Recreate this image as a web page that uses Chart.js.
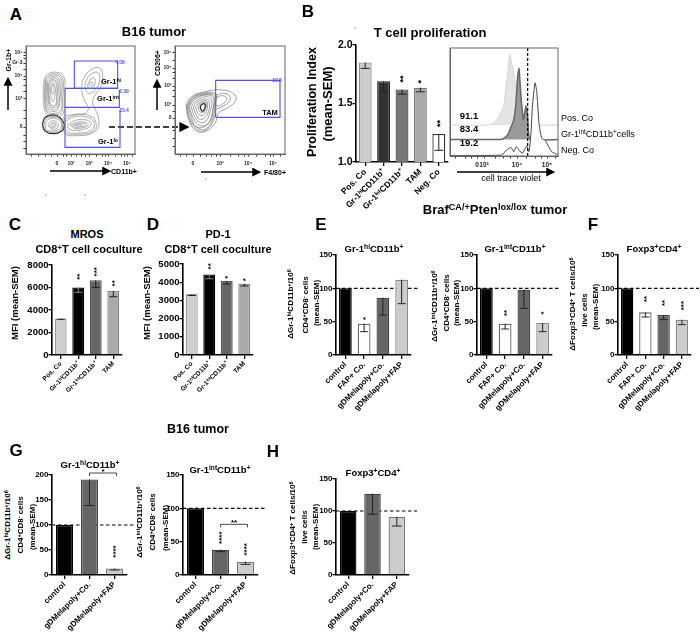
<!DOCTYPE html>
<html>
<head>
<meta charset="utf-8">
<title>Figure</title>
<script src="https://cdn.jsdelivr.net/npm/chart.js@4"></script>
<style>
  html, body { margin: 0; padding: 0; background: #fff; }
  #page { position: relative; width: 700px; height: 638px; overflow: hidden; font-family: "Liberation Sans", Arial, sans-serif; filter: blur(0.3px); background: #fff; }
  #page canvas { position: absolute; }
  #page svg { position: absolute; left: 0; top: 0; }
  .txt { position: absolute; white-space: nowrap; font-weight: bold; color: #000; line-height: 1; }
  .txt sup { font-size: 70%; line-height: 0; vertical-align: baseline; position: relative; top: -0.4em; }
</style>
</head>
<body>
<div id="page">
  <svg width="700" height="638">
    <defs>
      <marker id="head" markerWidth="6" markerHeight="6" refX="4.5" refY="3" orient="auto"><path d="M0,0 L6,3 L0,6 Z" fill="#000"/></marker>
    </defs>
    <g stroke="#000" stroke-width="1.5" fill="none">
      <line x1="8" y1="110" x2="8" y2="79" marker-end="url(#head)"/>
      <line x1="50" y1="171" x2="109" y2="171" marker-end="url(#head)"/>
      <line x1="157" y1="110" x2="157" y2="81" marker-end="url(#head)"/>
      <line x1="201" y1="172" x2="259" y2="172" marker-end="url(#head)"/>
      <line x1="109" y1="127" x2="187" y2="127" stroke-width="1.7" stroke-dasharray="6 3" marker-end="url(#head)"/>
      <line x1="457" y1="172" x2="553" y2="172" marker-end="url(#head)"/>
    </g>
    <g fill="#777">
      <circle cx="46" cy="195" r="0.7"/><circle cx="85" cy="195" r="0.7"/><circle cx="206" cy="179" r="0.7"/><circle cx="355" cy="28" r="0.7"/>
    </g>
  </svg>
</div>
<script>
// panel B
const bCategories = ["Pos. Co", "Gr-1ʰⁱCD11b⁺", "Gr-1ⁱⁿᵗCD11b⁺", "TAM", "Neg. Co"];
const bValues = [1.85, 1.69, 1.62, 1.635, 1.24];
const bErrors = [0.05, 0.09, 0.04, 0.035, 0.14];
const bStars = ["", "", "**", "*", "**"];
const bStarAt = [0, 0, 1.71, 1.685, 1.33];
const bTicks = [1.0, 1.5, 2.0];

// panels C, D
const cdCategories = ["Pos. Co", "Gr-1ʰⁱCD11b⁺", "Gr-1ⁱⁿᵗCD11b⁺", "TAM"];
const cValues = [3250, 6000, 6650, 5680];
const cErrors = [80, 430, 650, 500];
const cStars = ["", "**", "***", "**"];
const cStarAt = [0, 6960, 7400, 6370];
const cTicks = [0, 2000, 4000, 6000, 8000];
const dValues = [3350, 4420, 4070, 3920];
const dErrors = [80, 230, 160, 130];
const dStars = ["", "**", "*", "*"];
const dStarAt = [0, 4870, 4280, 4135];
const dTicks = [0, 1000, 2000, 3000, 4000, 5000];

// panels E, F
const efCategories = ["control", "FAP+ Co.", "gDMelapoly+Co.", "gDMelapoly+FAP"];
const e1Values = [100, 47, 86, 113];
const e1Errors = [0, 12, 26, 36];
const e1Stars = ["", "*", "", ""];
const e1StarAt = [0, 55, 0, 0];
const e2Values = [100, 47, 98, 48];
const e2Errors = [0, 8, 28, 13];
const e2Stars = ["", "**", "", "*"];
const e2StarAt = [0, 63, 0, 63];
const fValues = [100, 64, 60, 53];
const fErrors = [0, 7, 7, 7.5];
const fStars = ["", "**", "**", "***"];
const fStarAt = [0, 84, 78, 74];
const pctTicks = [0, 50, 100, 150];

// panels G, H
const ghCategories = ["control", "gDMelapoly+Co.", "gDMelapoly+FAP"];
const g1Values = [100, 191, 13];
const g1Errors = [0, 52, 3];
const g1Stars = ["", "", "****"];
const g1StarAt = [0, 0, 47];
const g1Ticks = [0, 50, 100, 150, 200];
const g2Values = [100, 38, 20];
const g2Errors = [0, 3, 4];
const g2Stars = ["", "****", "****"];
const g2StarAt = [0, 56, 38.5];
const hValues = [100, 127, 91];
const hErrors = [0, 32, 14.5];

// colours
const greyBars = [["#cccccc", "#8c8c8c"], ["#333333", "#222222"], ["#777777", "#555555"], ["#aaaaaa", "#777777"], ["#ffffff", "#333333"]];
const cdBars = [["#cfcfcf", "#999999"], ["#000000", "#000000"], ["#666666", "#555555"], ["#aaaaaa", "#888888"]];
const efBars = [["#000000", "#000000"], ["#ffffff", "#666666"], ["#666666", "#444444"], ["#cccccc", "#888888"]];
const ghBars = [["#000000", "#000000"], ["#666666", "#444444"], ["#cccccc", "#777777"]];

// flow plot 1: contour outlines, in display channels
const leftColumn = [
  [[58,245],[72,260],[95,263],[115,253],[120,220],[118,185],[115,140],[95,130],[70,133],[58,155],[55,205]],
  [[60,242],[75,256],[97,258],[112,247],[115,215],[113,180],[111,145],[92,135],[70,139],[60,165]],
  [[62,240],[78,253],[98,253],[110,240],[110,195],[108,150],[90,140],[70,145],[62,175]],
  [[65,237],[80,249],[98,247],[106,228],[105,185],[100,155],[87,145],[71,153],[65,185]],
  [[68,233],[82,245],[98,240],[102,210],[100,165],[85,150],[72,165],[68,200]],
  [[70,229],[82,241],[96,233],[98,205],[96,170],[84,157],[73,172]],
  [[72,225],[83,237],[94,227],[95,195],[92,167],[82,163],[74,180]],
  [[76,220],[83,230],[90,220],[90,195],[84,175],[78,190]],
  [[80,220],[84,227],[87,215],[85,197],[80,205]]
];
const lowerLeft = [
  [[56,105],[64,123],[86,130],[105,122],[114,104],[104,88],[80,83],[62,90]],
  [[60,105],[68,120],[88,125],[105,117],[110,103],[98,90],[78,87],[64,93]],
  [[68,105],[76,115],[90,117],[100,107],[95,95],[80,93]],
  [[74,105],[84,112],[94,105],[86,97],[76,99]],
  [[80,105],[86,109],[90,104],[84,100]]
];
const lowerLeftDark = [[52,105],[60,127],[85,135],[105,127],[118,105],[110,87],[85,79],[60,87]];
const upperRight = [
  [[172,235],[190,265],[222,277],[233,255],[228,220],[210,195],[203,170],[218,135],[220,100],[200,80],[160,73],[120,80],[115,125],[150,137],[180,140],[190,155],[178,180],[170,210]],
  [[180,230],[195,255],[218,263],[224,245],[215,215],[195,200],[182,210]],
  [[188,227],[198,243],[208,245],[210,230],[198,215],[190,217]],
  [[192,227],[198,235],[203,230],[197,222]]
];
const lowerRight = [
  [[118,122],[150,135],[195,132],[213,112],[206,87],[160,77],[122,83]],
  [[120,115],[150,130],[190,127],[208,110],[200,90],[160,81],[125,87]],
  [[128,107],[155,120],[188,119],[198,105],[180,93],[150,89],[130,95]],
  [[135,105],[155,113],[180,113],[190,105],[175,97],[150,95]],
  [[142,104],[158,109],[178,109],[182,104],[165,99],[148,99]],
  [[150,104],[160,106],[170,105],[165,102],[155,102]]
];
const gateHi = [[148,215],[148,297],[278,297],[278,215],[148,215]];
const gateInt = [[120,158],[120,215],[278,215]];
const gateIntRight = [[283,210],[283,160]];
const gateMid = [[120,158],[285,158]];
const gateLo = [[120,158],[120,38],[285,38],[285,150]];
const flow1XTicks = [96, 138, 192, 249, 306];
const flow1XLabels = ["0", "10²", "10³", "10⁴", "10⁵"];
const flow1XMinor = [20, 40, 60, 78, 115, 125, 155, 170, 180, 215, 232, 242, 270, 288, 298, 322];
const flow1YTicks = [99, 183, 252, 291, 321];
const flow1YLabels = ["0", "10³", "10⁴", "Gr-3", "10⁵"];
const flow1YMinor = [35, 55, 75, 125, 150, 205, 225, 240, 272, 305, 312];

// flow plot 2
const tamContours = [
  [[48,165],[65,190],[105,205],[160,210],[195,195],[195,175],[170,155],[145,140],[135,110],[105,85],[75,90],[55,125]],
  [[50,162],[68,188],[106,202],[137,198],[137,170],[132,125],[108,90],[80,92],[58,122]],
  [[52,160],[70,187],[108,199],[135,195],[135,170],[130,130],[110,95],[85,95],[62,120]],
  [[55,160],[72,184],[109,197],[132,190],[131,160],[122,120],[100,99],[78,100],[66,122]],
  [[58,160],[75,182],[110,195],[130,185],[128,150],[115,110],[90,103],[70,125]],
  [[64,160],[78,177],[110,190],[125,177],[120,145],[108,117],[90,113],[74,130]],
  [[70,160],[82,173],[110,183],[118,170],[115,145],[102,125],[88,123],[78,137]],
  [[76,160],[88,170],[108,178],[113,165],[108,145],[96,133],[84,140]],
  [[84,160],[94,170],[108,173],[108,157],[98,142],[88,147]]
];
const tamDark = [[90,160],[98,168],[105,167],[104,153],[96,147]];
const tamLobe = [
  [[138,195],[165,200],[180,190],[178,175],[155,160],[138,155]],
  [[138,187],[158,193],[170,185],[165,173],[140,163]]
];
const gateTam = [[137,128],[137,239],[330,239],[330,128],[137,128]];
const flow2XTicks = [69, 150, 234, 309];
const flow2XLabels = ["0", "10³", "10⁴", "10⁵"];
const flow2XMinor = [30, 50, 90, 110, 125, 140, 180, 205, 222, 260, 285, 300, 330];
const flow2YTicks = [126, 165, 222, 276, 322];
const flow2YLabels = ["0", "10²", "10³", "10⁴", "10⁵"];
const flow2YMinor = [40, 65, 90, 145, 190, 208, 245, 262, 300];

// histogram
const histPos = [[15,93],[130,93],[145,98],[158,113],[175,143],[182,198],[188,248],[195,306],[200,278],[208,238],[215,198],[222,158],[228,123],[240,98],[250,93],[339,93]];
const histInt = [[15,50],[170,50],[188,63],[198,88],[205,103],[212,148],[218,240],[222,263],[228,178],[235,110],[243,150],[248,118],[255,50],[339,50]];
const histNeg = [[15,1],[170,3],[185,18],[198,26],[206,13],[214,28],[222,18],[232,8],[245,30],[252,13],[258,68],[262,148],[270,220],[275,198],[282,98],[290,53],[300,48],[320,13],[339,3]];
const histGate = [[248,325],[248,0]];
const histXTicks = [96, 117, 216, 306];
const histXLabels = ["0", "10³", "10⁴", "10⁵"];
const histXMinor = [30, 60, 80, 150, 175, 195, 245, 270, 290, 330];

const page = document.getElementById("page");

function addCanvas(area, m) {
  const c = document.createElement("canvas");
  c.width = area.right - area.left + m.left + m.right;
  c.height = area.bottom - area.top + m.top + m.bottom;
  c.style.left = area.left - m.left + "px";
  c.style.top = area.top - m.top + "px";
  page.appendChild(c);
  return c.getContext("2d");
}

// star marks, dashed line, error bars and brackets, all placed through the chart's scales
function barExtras(o) {
  return {
    id: "barExtras",
    beforeDatasetsDraw: function (chart) {
      if (!o.refLine) return;
      const ctx = chart.ctx;
      const py = chart.scales.y.getPixelForValue(o.refLine);
      ctx.save();
      ctx.strokeStyle = "#000";
      ctx.lineWidth = 1.2;
      ctx.setLineDash([3.5, 2.5]);
      ctx.beginPath();
      ctx.moveTo(chart.chartArea.left, py);
      ctx.lineTo(chart.chartArea.right + (o.refExtra || 8), py);
      ctx.stroke();
      ctx.restore();
    },
    afterDatasetsDraw: function (chart) {
      const ctx = chart.ctx;
      const x = chart.scales.x;
      const y = chart.scales.y;
      ctx.save();
      o.values.forEach(function (v, i) {
        const px = x.getPixelForTick(i);
        const err = o.errors[i];
        if (err) {
          const cap = o.capWidth || 4;
          ctx.strokeStyle = o.colors[i][0] === "#000000" ? "#8a8a8a" : "#222";
          ctx.lineWidth = 1;
          ctx.beginPath();
          ctx.moveTo(px, y.getPixelForValue(v));
          ctx.lineTo(px, y.getPixelForValue(v - err));
          ctx.moveTo(px - cap, y.getPixelForValue(v - err));
          ctx.lineTo(px + cap, y.getPixelForValue(v - err));
          ctx.stroke();
        }
        if (o.stars && o.stars[i]) {
          ctx.save();
          ctx.translate(px + 1.5, y.getPixelForValue(o.starAt[i]));
          ctx.rotate(-Math.PI / 2);
          ctx.fillStyle = "#000";
          ctx.font = "bold " + (o.starSize || 8) + "px 'Liberation Sans'";
          ctx.textAlign = "center";
          ctx.textBaseline = "middle";
          ctx.fillText(o.stars[i], 0, 0);
          ctx.restore();
        }
      });
      if (o.bracket) {
        const b = o.bracket;
        const x1 = x.getPixelForTick(b.from);
        const x2 = x.getPixelForTick(b.to) + 2;
        const by = y.getPixelForValue(b.value);
        ctx.strokeStyle = "#333";
        ctx.lineWidth = 0.9;
        ctx.beginPath();
        ctx.moveTo(x1, by + 3);
        ctx.lineTo(x1, by);
        ctx.lineTo(x2, by);
        ctx.lineTo(x2, by + 3);
        ctx.stroke();
        ctx.fillStyle = "#000";
        ctx.font = "bold 8px 'Liberation Sans'";
        ctx.textAlign = "center";
        ctx.fillText(b.text, (x1 + x2) / 2, by + 1);
      }
      ctx.restore();
    }
  };
}

function barPanel(area, o) {
  const m = { left: 40, right: 20, top: 16, bottom: 80 };
  new Chart(addCanvas(area, m), {
    type: "bar",
    data: {
      labels: o.categories,
      datasets: [{
        data: o.values,
        backgroundColor: o.colors.map(function (c) { return c[0]; }),
        borderColor: o.colors.map(function (c) { return c[1]; }),
        borderWidth: 1.3,
        barPercentage: o.barWidth || 0.68,
        categoryPercentage: 1
      }]
    },
    options: {
      responsive: false,
      animation: false,
      layout: { autoPadding: false, padding: { top: m.top, right: m.right } },
      plugins: { legend: { display: false }, tooltip: { enabled: false } },
      scales: {
        x: {
          grid: { drawOnChartArea: false, offset: false, color: "#000", lineWidth: 1.3, tickLength: 4 },
          border: { color: "#000", width: 1.6 },
          ticks: {
            autoSkip: false, minRotation: 45, maxRotation: 45, padding: 1, color: "#000",
            font: { family: "Liberation Sans", weight: "bold", size: o.xSize || 8 }
          },
          afterFit: function (s) { s.height = m.bottom; }
        },
        y: {
          min: o.ticks[0],
          max: o.ticks[o.ticks.length - 1],
          afterBuildTicks: function (s) { s.ticks = o.ticks.map(function (v) { return { value: v }; }); },
          grid: { drawOnChartArea: false, color: "#000", lineWidth: 1.3, tickLength: 3.5 },
          border: { color: "#000", width: 1.6 },
          ticks: {
            padding: 0, color: "#000",
            font: { family: "Liberation Sans", weight: "bold", size: o.ySize || 8 },
            callback: function (v) { return o.yFixed ? v.toFixed(o.yFixed) : v; }
          },
          afterFit: function (s) { s.width = m.left; }
        }
      }
    },
    plugins: [barExtras(o)]
  });
}

function line(points, color, width, tension, extra) {
  return Object.assign({
    data: points.map(function (p) { return { x: p[0], y: p[1] }; }),
    showLine: true,
    pointRadius: 0,
    borderColor: color,
    borderWidth: width,
    tension: tension,
    fill: false
  }, extra || {});
}

function loop(points, color, width) {
  return line(points.concat([points[0]]), color, width, 0.45);
}

const frame = {
  id: "frame",
  afterDraw: function (chart) {
    const a = chart.chartArea;
    chart.ctx.save();
    chart.ctx.strokeStyle = "#666";
    chart.ctx.lineWidth = 1;
    chart.ctx.strokeRect(a.left, a.top, a.right - a.left, a.bottom - a.top);
    chart.ctx.restore();
  }
};

function flowPanel(area, o) {
  const m = { left: 24, right: 8, top: 8, bottom: 20 };
  function tickList(values, minor) {
    return function (s) { s.ticks = values.concat(minor || []).map(function (v) { return { value: v }; }); };
  }
  function labelFor(values, labels) {
    return function (v) { const i = values.indexOf(v); return i < 0 ? "" : labels[i]; };
  }
  const tickFont = { family: "Liberation Sans", size: o.tickSize || 5, weight: "bold" };
  const scales = {
    x: {
      type: "linear", min: o.x[0], max: o.x[1],
      afterBuildTicks: tickList(o.xTicks, o.xMinor),
      grid: { drawOnChartArea: false, color: "#333", tickLength: 2.5 },
      border: { color: "#666" },
      ticks: { autoSkip: false, maxRotation: 0, padding: o.xPad || 2, color: "#222", font: tickFont, callback: labelFor(o.xTicks, o.xLabels) },
      afterFit: function (s) { s.height = m.bottom; }
    },
    y: {
      type: "linear", min: o.y[0], max: o.y[1],
      afterBuildTicks: tickList(o.yTicks || [], o.yMinor),
      grid: { drawOnChartArea: false, color: "#333", tickLength: 2.5 },
      border: { color: "#666" },
      ticks: { autoSkip: false, padding: 1, color: "#222", font: tickFont, display: !!o.yTicks, callback: o.yTicks ? labelFor(o.yTicks, o.yLabels) : undefined },
      afterFit: function (s) { s.width = m.left; }
    }
  };
  new Chart(addCanvas(area, m), {
    type: "scatter",
    data: { datasets: o.sets },
    options: {
      responsive: false,
      animation: false,
      layout: { autoPadding: false, padding: { top: m.top, right: m.right } },
      plugins: { legend: { display: false }, tooltip: { enabled: false } },
      scales: scales
    },
    plugins: [frame]
  });
}

function addText(t) {
  const d = document.createElement("div");
  d.className = "txt";
  d.innerHTML = t.html;
  d.style.left = t.x + "px";
  d.style.top = t.y + "px";
  d.style.fontSize = t.size + "px";
  if (t.normal) d.style.fontWeight = "normal";
  if (t.color) d.style.color = t.color;
  const ax = t.left ? "0" : "-50%";
  d.style.transform = "translate(" + ax + ",-50%)" + (t.rot ? " rotate(-90deg)" : "");
  page.appendChild(d);
}

// flow plots
const BLUE = "#4f4ff0";
const GREY = "#8a8a8a";
flowPanel({ left: 26, right: 135, top: 46, bottom: 154 }, {
  x: [3, 330], y: [18, 342],
  xTicks: flow1XTicks, xLabels: flow1XLabels, xMinor: flow1XMinor,
  yTicks: flow1YTicks, yLabels: flow1YLabels, yMinor: flow1YMinor, xPad: 4,
  sets: leftColumn.concat(upperRight, lowerRight, lowerLeft).map(function (p) { return loop(p, GREY, 0.7); })
    .concat([loop(lowerLeftDark, "#333", 1.3)])
    .concat([gateHi, gateInt, gateIntRight, gateMid, gateLo].map(function (p) { return line(p, BLUE, 1.1, 0); }))
});
flowPanel({ left: 175, right: 285, top: 46, bottom: 154 }, {
  x: [15, 345], y: [18, 342],
  xTicks: flow2XTicks, xLabels: flow2XLabels, xMinor: flow2XMinor,
  yTicks: flow2YTicks, yLabels: flow2YLabels, yMinor: flow2YMinor, xPad: 4,
  sets: tamContours.concat(tamLobe).map(function (p) { return loop(p, "#777", 0.7); })
    .concat([loop(tamDark, "#222", 1.3), line(gateTam, BLUE, 1.1, 0)])
});
flowPanel({ left: 450, right: 558, top: 48, bottom: 156 }, {
  x: [15, 339], y: [0, 325],
  xTicks: histXTicks, xLabels: histXLabels, xMinor: histXMinor, tickSize: 6.5, xPad: 3,
  sets: [
    line(histNeg, "#444", 1, 0.15, { fill: { value: 0 }, backgroundColor: "#ffffff", order: 1 }),
    line(histInt, "#666", 1.5, 0.15, { fill: { value: 50 }, backgroundColor: "#9a9a9a", order: 2 }),
    line(histPos, "#d2d2d2", 1, 0.15, { fill: { value: 93 }, backgroundColor: "#e4e4e4", order: 3 }),
    line(histGate, "#000", 1.2, 0, { borderDash: [3, 2], order: 0 })
  ]
});

// bar panels
barPanel({ left: 356, right: 448, top: 45, bottom: 162 }, {
  categories: bCategories, values: bValues, errors: bErrors, colors: greyBars, ticks: bTicks, yFixed: 1,
  stars: bStars, starAt: bStarAt, starSize: 9, ySize: 10.5, xSize: 8.5, barWidth: 0.7, capWidth: 4.5
});
barPanel({ left: 52, right: 122, top: 265, bottom: 355 }, {
  categories: cdCategories, values: cValues, errors: cErrors, colors: cdBars, ticks: cTicks,
  stars: cStars, starAt: cStarAt, ySize: 9.5, xSize: 6.5
});
barPanel({ left: 183, right: 253, top: 264, bottom: 355 }, {
  categories: cdCategories, values: dValues, errors: dErrors, colors: cdBars, ticks: dTicks,
  stars: dStars, starAt: dStarAt, ySize: 9.5, xSize: 6.5
});
barPanel({ left: 336, right: 411, top: 255, bottom: 355 }, {
  categories: efCategories, values: e1Values, errors: e1Errors, colors: efBars, ticks: pctTicks,
  stars: e1Stars, starAt: e1StarAt, refLine: 100
});
barPanel({ left: 477, right: 552, top: 255, bottom: 355 }, {
  categories: efCategories, values: e2Values, errors: e2Errors, colors: efBars, ticks: pctTicks,
  stars: e2Stars, starAt: e2StarAt, refLine: 100
});
barPanel({ left: 618, right: 691, top: 255, bottom: 355 }, {
  categories: efCategories, values: fValues, errors: fErrors, colors: efBars, ticks: pctTicks,
  stars: fStars, starAt: fStarAt, refLine: 100, refExtra: 0
});
barPanel({ left: 52, right: 127, top: 475, bottom: 575 }, {
  categories: ghCategories, values: g1Values, errors: g1Errors, colors: ghBars, ticks: g1Ticks,
  stars: g1Stars, starAt: g1StarAt, refLine: 100, refExtra: 0, capWidth: 5,
  bracket: { from: 1, to: 2, value: 204, text: "*" }
});
barPanel({ left: 183, right: 258, top: 475, bottom: 575 }, {
  categories: ghCategories, values: g2Values, errors: g2Errors, colors: ghBars, ticks: pctTicks,
  stars: g2Stars, starAt: g2StarAt, refLine: 100, refExtra: 0, capWidth: 5,
  bracket: { from: 1, to: 2, value: 76, text: "**" }
});
barPanel({ left: 336, right: 409, top: 479, bottom: 575 }, {
  categories: ghCategories, values: hValues, errors: hErrors, colors: ghBars, ticks: pctTicks,
  refLine: 100, refExtra: 0, capWidth: 5
});

// text
const hiB = "Gr-1<sup>hi</sup>CD11b<sup>+</sup>";
const intB = "Gr-1<sup>int</sup>CD11b<sup>+</sup>";
const foxp = "Foxp3<sup>+</sup>CD4<sup>+</sup>";
const cd4cd8 = "CD4<sup>+</sup>CD8<sup>-</sup> cells";
[
  { html: "A", x: 16, y: 14, size: 17 }, { html: "B", x: 308, y: 11, size: 17 },
  { html: "C", x: 15, y: 224, size: 17 }, { html: "D", x: 153, y: 224, size: 17 },
  { html: "E", x: 321, y: 224, size: 17 }, { html: "F", x: 593, y: 224, size: 17 },
  { html: "G", x: 16, y: 450, size: 17 }, { html: "H", x: 273, y: 451, size: 17 },
  { html: "B16 tumor", x: 154, y: 31, size: 13 },
  { html: "T cell proliferation", x: 430, y: 32, size: 13 },
  { html: "Braf<sup>CA/+</sup>Pten<sup>lox/lox</sup> tumor", x: 495, y: 209, size: 13 },
  { html: "B16 tumor", x: 198, y: 429, size: 12.5 },
  { html: "MROS", x: 87, y: 234, size: 11 },
  { html: "CD8<sup>+</sup>T cell coculture", x: 89, y: 249, size: 11 },
  { html: "PD-1", x: 218, y: 234, size: 11 },
  { html: "CD8<sup>+</sup>T cell coculture", x: 218, y: 249, size: 11 },
  { html: hiB, x: 374, y: 249, size: 9.5 }, { html: intB, x: 515, y: 249, size: 9.5 },
  { html: foxp, x: 654, y: 249, size: 9.5 }, { html: hiB, x: 90, y: 465, size: 9.5 },
  { html: intB, x: 220, y: 470, size: 9.5 }, { html: foxp, x: 373, y: 473, size: 9.5 },

  { html: "Proliferation Index", x: 312, y: 102, size: 12.5, rot: 1 },
  { html: "(mean-SEM)", x: 327, y: 104, size: 13, rot: 1 },
  { html: "MFI (mean-SEM)", x: 15, y: 303, size: 9.5, rot: 1 },
  { html: "MFI (mean-SEM)", x: 147, y: 303, size: 9.5, rot: 1 },

  { html: "ΔGr-1<sup>hi</sup>CD11b<sup>+</sup>/10<sup>6</sup>", x: 291, y: 304, size: 8, rot: 1 },
  { html: cd4cd8, x: 306, y: 305, size: 8, rot: 1 },
  { html: "(mean-SEM)", x: 317, y: 303, size: 8, rot: 1 },
  { html: "ΔGr-1<sup>int</sup>CD11b<sup>+</sup>/10<sup>6</sup>", x: 435, y: 306, size: 8, rot: 1 },
  { html: cd4cd8, x: 447, y: 303, size: 8, rot: 1 },
  { html: "(mean-SEM)", x: 457, y: 303, size: 8, rot: 1 },
  { html: "ΔFoxp3<sup>+</sup>CD4<sup>+</sup> T cells/10<sup>6</sup>", x: 573, y: 304, size: 8, rot: 1 },
  { html: "live cells", x: 585, y: 310, size: 8, rot: 1 },
  { html: "(mean-SEM)", x: 596, y: 307, size: 8, rot: 1 },
  { html: "ΔGr-1<sup>hi</sup>CD11b<sup>+</sup>/10<sup>6</sup>", x: 8, y: 525, size: 8, rot: 1 },
  { html: cd4cd8, x: 21, y: 525, size: 8, rot: 1 },
  { html: "(mean-SEM)", x: 33, y: 527, size: 8, rot: 1 },
  { html: "ΔGr-1<sup>int</sup>CD11b<sup>+</sup>/10<sup>6</sup>", x: 140, y: 522, size: 8, rot: 1 },
  { html: cd4cd8, x: 153, y: 522, size: 8, rot: 1 },
  { html: "(mean-SEM)", x: 166, y: 528, size: 8, rot: 1 },
  { html: "ΔFoxp3<sup>+</sup>CD4<sup>+</sup> T cells/10<sup>6</sup>", x: 293, y: 528, size: 8, rot: 1 },
  { html: "live cells", x: 305, y: 527, size: 8, rot: 1 },
  { html: "(mean-SEM)", x: 316, y: 527, size: 8, rot: 1 },

  { html: "Gr-1b+", x: 8, y: 60, size: 7, rot: 1 }, { html: "CD11b+", x: 124, y: 171, size: 7 },
  { html: "CD206+", x: 157, y: 63, size: 7, rot: 1 }, { html: "F4/80+", x: 275, y: 172, size: 7 },
  { html: "Gr-1<sup>hi</sup>", x: 111, y: 82, size: 7.5 },
  { html: "Gr-1<sup>int</sup>", x: 108, y: 99, size: 7.5 },
  { html: "Gr-1<sup>lo</sup>", x: 108, y: 142, size: 7.5 },
  { html: "TAM", x: 270, y: 113, size: 7.5 },
  { html: "4.09", x: 120, y: 62, size: 5, color: BLUE },
  { html: "2.39", x: 124, y: 91, size: 5, color: BLUE },
  { html: "15.4", x: 124, y: 110, size: 5, color: BLUE },
  { html: "10.8", x: 277, y: 80, size: 5, color: BLUE },

  { html: "91.1", x: 469, y: 116, size: 9.5 },
  { html: "83.4", x: 469, y: 129, size: 9.5 },
  { html: "19.2", x: 469, y: 143, size: 9.5 },
  { html: "Pos. Co", x: 561, y: 118, size: 9, normal: 1, left: 1 },
  { html: "Gr-1<sup>int</sup>CD11b<sup>+</sup>cells", x: 561, y: 134, size: 9, normal: 1, left: 1 },
  { html: "Neg. Co", x: 561, y: 150, size: 9, normal: 1, left: 1 },
  { html: "cell trace violet", x: 511, y: 178, size: 9, normal: 1 }
].forEach(addText);
</script>
</body>
</html>
